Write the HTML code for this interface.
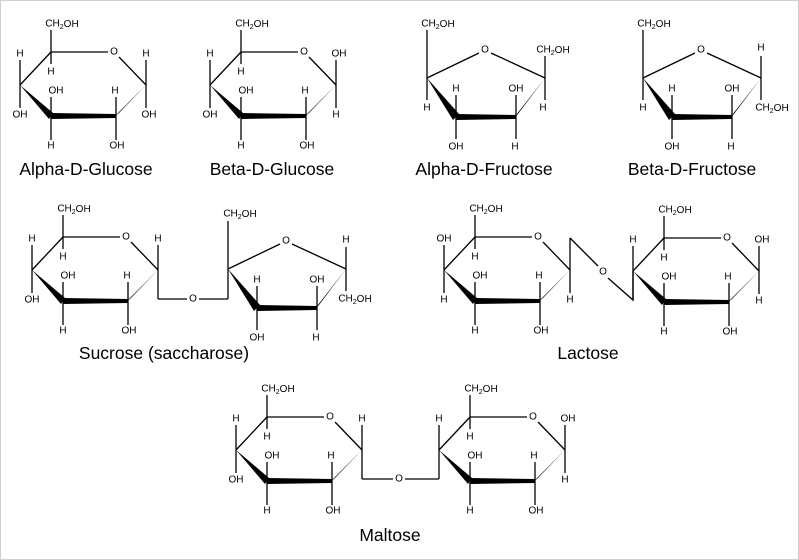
<!DOCTYPE html>
<html><head><meta charset="utf-8"><style>
html,body{margin:0;padding:0;background:#fff}
svg{display:block}
text{font-family:"Liberation Sans",Arial,sans-serif;font-size:10px;text-anchor:middle;dominant-baseline:central;fill:#000}
.t{font-size:17.5px}
line,polyline{stroke:#000;stroke-width:1.3;fill:none}
.s{font-size:7px}
</style></head><body>
<svg width="799" height="560" viewBox="0 0 799 560" xmlns="http://www.w3.org/2000/svg">
<rect x="0.5" y="0.5" width="798" height="559" fill="#fff" stroke="#d0d0d0"/>
<defs>
<g id="gr">
<line x1="0" y1="0" x2="57" y2="0"/>
<line x1="68" y1="5" x2="95" y2="33"/>
<line x1="-31" y1="33" x2="0" y2="0"/>
<polygon points="-31,33 -2,67 2,61" fill="#000"/>
<polygon points="0,61 65,62 65,66 0,67" fill="#000"/>
<polygon points="62,66 68,61 95,33" fill="#000"/>
</g>
<g id="fr">
<line x1="0" y1="0" x2="52" y2="-25"/>
<line x1="64" y1="-25" x2="118" y2="0"/>
<polygon points="0,0 26,42 32,36" fill="#000"/>
<polygon points="29,36 89,37 89,41 29,42" fill="#000"/>
<polygon points="86,41 91,36 118,0" fill="#000"/>
</g>
</defs>

<!-- Alpha-D-Glucose -->
<g transform="translate(51,52)">
<use href="#gr"/>
<line x1="0" y1="-22" x2="0" y2="12"/><line x1="-31" y1="8" x2="-31" y2="56"/><line x1="0" y1="45" x2="0" y2="88"/><line x1="65" y1="45" x2="65" y2="88"/><line x1="95" y1="8" x2="95" y2="56"/>
<text x="11" y="-28">CH<tspan class="s" dy="3">2</tspan><tspan dy="-3">OH</tspan></text>
<text x="0" y="20">H</text><text x="63" y="0">O</text>
<text x="-31" y="2">H</text><text x="-31" y="63">OH</text>
<text x="5" y="39">OH</text><text x="0" y="94">H</text>
<text x="64" y="39">H</text><text x="66" y="94">OH</text>
<text x="95" y="2">H</text><text x="98" y="63">OH</text>
</g>
<text class="t" x="86" y="169">Alpha-D-Glucose</text>

<!-- Beta-D-Glucose -->
<g transform="translate(241,52)">
<use href="#gr"/>
<line x1="0" y1="-22" x2="0" y2="12"/><line x1="-31" y1="8" x2="-31" y2="56"/><line x1="0" y1="45" x2="0" y2="88"/><line x1="65" y1="45" x2="65" y2="88"/><line x1="95" y1="8" x2="95" y2="56"/>
<text x="11" y="-28">CH<tspan class="s" dy="3">2</tspan><tspan dy="-3">OH</tspan></text>
<text x="0" y="20">H</text><text x="63" y="0">O</text>
<text x="-31" y="2">H</text><text x="-31" y="63">OH</text>
<text x="5" y="39">OH</text><text x="0" y="94">H</text>
<text x="64" y="39">H</text><text x="66" y="94">OH</text>
<text x="98" y="2">OH</text><text x="95" y="63">H</text>
</g>
<text class="t" x="272" y="169">Beta-D-Glucose</text>

<!-- Alpha-D-Fructose -->
<g transform="translate(427,78)">
<use href="#fr"/>
<line x1="0" y1="-48" x2="0" y2="22"/><line x1="29" y1="17" x2="29" y2="61"/><line x1="89" y1="17" x2="89" y2="61"/><line x1="118" y1="-22" x2="118" y2="22"/>
<text x="11" y="-54">CH<tspan class="s" dy="3">2</tspan><tspan dy="-3">OH</tspan></text>
<text x="58" y="-28">O</text>
<text x="0" y="30">H</text>
<text x="29" y="11">H</text><text x="29" y="69">OH</text>
<text x="89" y="11">OH</text><text x="88" y="69">H</text>
<text x="126" y="-28">CH<tspan class="s" dy="3">2</tspan><tspan dy="-3">OH</tspan></text>
<text x="116" y="30">H</text>
</g>
<text class="t" x="484" y="169">Alpha-D-Fructose</text>

<!-- Beta-D-Fructose -->
<g transform="translate(643,78)">
<use href="#fr"/>
<line x1="0" y1="-48" x2="0" y2="22"/><line x1="29" y1="17" x2="29" y2="61"/><line x1="89" y1="17" x2="89" y2="61"/><line x1="118" y1="-22" x2="118" y2="22"/>
<text x="11" y="-54">CH<tspan class="s" dy="3">2</tspan><tspan dy="-3">OH</tspan></text>
<text x="58" y="-28">O</text>
<text x="0" y="30">H</text>
<text x="29" y="11">H</text><text x="29" y="69">OH</text>
<text x="89" y="11">OH</text><text x="88" y="69">H</text>
<text x="118" y="-30">H</text>
<text x="129" y="30">CH<tspan class="s" dy="3">2</tspan><tspan dy="-3">OH</tspan></text>
</g>
<text class="t" x="692" y="169">Beta-D-Fructose</text>

<!-- Sucrose -->
<g transform="translate(63,237)">
<use href="#gr"/>
<line x1="0" y1="-22" x2="0" y2="12"/><line x1="-31" y1="8" x2="-31" y2="56"/><line x1="0" y1="45" x2="0" y2="88"/><line x1="65" y1="45" x2="65" y2="88"/><line x1="95" y1="8" x2="95" y2="62"/>
<text x="11" y="-28">CH<tspan class="s" dy="3">2</tspan><tspan dy="-3">OH</tspan></text>
<text x="0" y="20">H</text><text x="63" y="0">O</text>
<text x="-31" y="2">H</text><text x="-31" y="63">OH</text>
<text x="5" y="39">OH</text><text x="0" y="94">H</text>
<text x="64" y="39">H</text><text x="66" y="94">OH</text>
<text x="95" y="2">H</text>
</g>
<line x1="158" y1="299" x2="187" y2="299"/><text x="193" y="299">O</text><line x1="199" y1="299" x2="228" y2="299"/>
<g transform="translate(228,269)">
<use href="#fr"/>
<line x1="0" y1="-48" x2="0" y2="30"/><line x1="29" y1="17" x2="29" y2="61"/><line x1="89" y1="17" x2="89" y2="61"/><line x1="118" y1="-22" x2="118" y2="22"/>
<text x="12" y="-55">CH<tspan class="s" dy="3">2</tspan><tspan dy="-3">OH</tspan></text>
<text x="58" y="-28">O</text>
<text x="29" y="11">H</text><text x="29" y="69">OH</text>
<text x="89" y="11">OH</text><text x="88" y="69">H</text>
<text x="118" y="-29">H</text>
<text x="127" y="30">CH<tspan class="s" dy="3">2</tspan><tspan dy="-3">OH</tspan></text>
</g>
<text class="t" x="164" y="353">Sucrose (saccharose)</text>

<!-- Lactose -->
<g transform="translate(475,237)">
<use href="#gr"/>
<line x1="0" y1="-22" x2="0" y2="12"/><line x1="-31" y1="8" x2="-31" y2="56"/><line x1="0" y1="45" x2="0" y2="88"/><line x1="65" y1="45" x2="65" y2="88"/><line x1="95" y1="1" x2="95" y2="56"/>
<text x="11" y="-28">CH<tspan class="s" dy="3">2</tspan><tspan dy="-3">OH</tspan></text>
<text x="0" y="20">H</text><text x="63" y="0">O</text>
<text x="-31" y="2">OH</text><text x="-31" y="63">H</text>
<text x="5" y="39">OH</text><text x="0" y="94">H</text>
<text x="64" y="39">H</text><text x="66" y="94">OH</text>
<text x="95" y="63">H</text>
</g>
<polyline points="570,238 598,266"/><text x="603" y="272">O</text><polyline points="608,278 633,300 633,271"/>
<g transform="translate(664,238)">
<use href="#gr"/>
<line x1="0" y1="-22" x2="0" y2="12"/><line x1="-31" y1="8" x2="-31" y2="62"/><line x1="0" y1="45" x2="0" y2="88"/><line x1="65" y1="45" x2="65" y2="88"/><line x1="95" y1="8" x2="95" y2="56"/>
<text x="11" y="-28">CH<tspan class="s" dy="3">2</tspan><tspan dy="-3">OH</tspan></text>
<text x="0" y="20">H</text><text x="63" y="0">O</text>
<text x="-31" y="2">H</text>
<text x="5" y="39">OH</text><text x="0" y="94">H</text>
<text x="64" y="39">H</text><text x="66" y="94">OH</text>
<text x="98" y="2">OH</text><text x="95" y="63">H</text>
</g>
<text class="t" x="588" y="353">Lactose</text>

<!-- Maltose -->
<g transform="translate(267,417)">
<use href="#gr"/>
<line x1="0" y1="-22" x2="0" y2="12"/><line x1="-31" y1="8" x2="-31" y2="56"/><line x1="0" y1="45" x2="0" y2="88"/><line x1="65" y1="45" x2="65" y2="88"/><line x1="95" y1="8" x2="95" y2="62"/>
<text x="11" y="-28">CH<tspan class="s" dy="3">2</tspan><tspan dy="-3">OH</tspan></text>
<text x="0" y="20">H</text><text x="63" y="0">O</text>
<text x="-31" y="2">H</text><text x="-31" y="63">OH</text>
<text x="5" y="39">OH</text><text x="0" y="94">H</text>
<text x="64" y="39">H</text><text x="66" y="94">OH</text>
<text x="95" y="2">H</text>
</g>
<line x1="362" y1="479" x2="393" y2="479"/><text x="399" y="479">O</text><line x1="405" y1="479" x2="439" y2="479"/>
<g transform="translate(470,417)">
<use href="#gr"/>
<line x1="0" y1="-22" x2="0" y2="12"/><line x1="-31" y1="8" x2="-31" y2="62"/><line x1="0" y1="45" x2="0" y2="88"/><line x1="65" y1="45" x2="65" y2="88"/><line x1="95" y1="8" x2="95" y2="56"/>
<text x="11" y="-28">CH<tspan class="s" dy="3">2</tspan><tspan dy="-3">OH</tspan></text>
<text x="0" y="20">H</text><text x="63" y="0">O</text>
<text x="-31" y="2">H</text>
<text x="5" y="39">OH</text><text x="0" y="94">H</text>
<text x="64" y="39">H</text><text x="66" y="94">OH</text>
<text x="98" y="2">OH</text><text x="95" y="63">H</text>
</g>
<text class="t" x="390" y="535">Maltose</text>
</svg>
</body></html>
